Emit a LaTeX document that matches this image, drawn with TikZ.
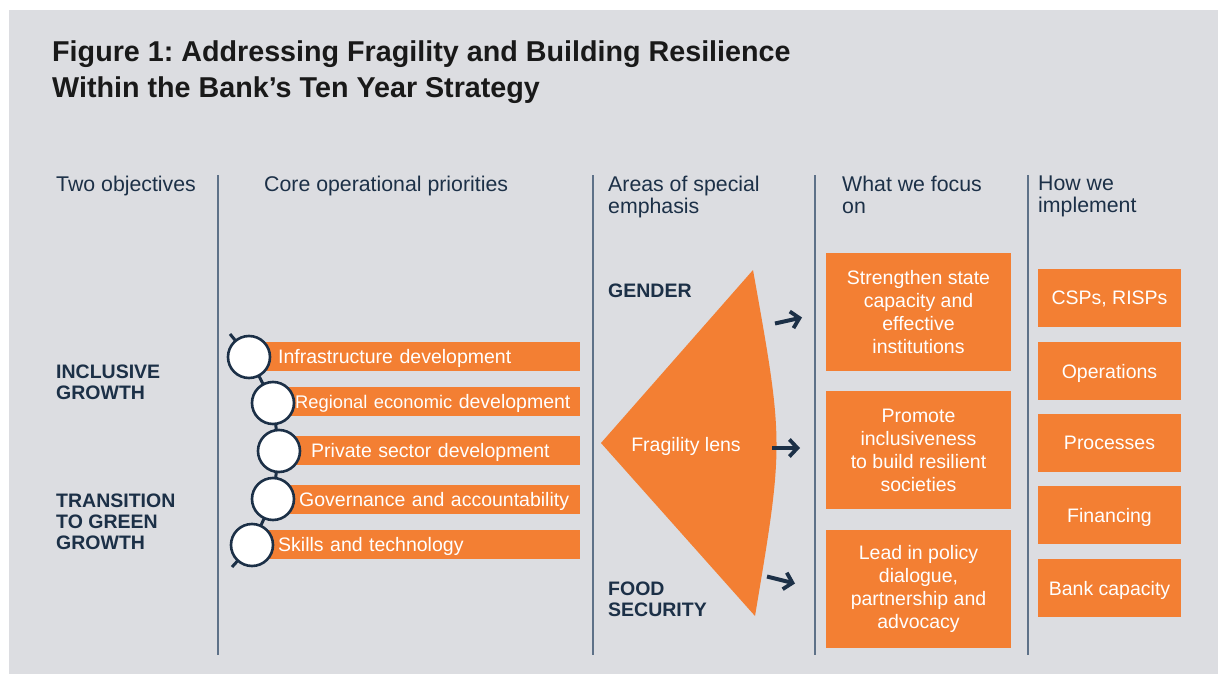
\documentclass[tikz,border=0pt]{standalone}
\usepackage{fontspec}
\setmainfont{Liberation Sans}
\usetikzlibrary{arrows.meta}
\definecolor{bggray}{HTML}{DCDDE1}
\definecolor{orng}{HTML}{F37F33}
\definecolor{navy}{HTML}{1C3047}
\definecolor{sepline}{HTML}{5E7188}
\tikzset{
  heading/.style={anchor=north west, inner sep=0pt, text=navy, align=left, font=\fontsize{21.3}{21.5}\selectfont},
  sidelabel/.style={anchor=north west, inner sep=0pt, text=navy, align=left, font=\fontsize{19.5}{21}\selectfont\bfseries},
  titletext/.style={anchor=base west, inner sep=0pt, text=black!90, font=\fontsize{28.7}{36}\selectfont\bfseries},
  barbox/.style={anchor=west, fill=orng, text=white, inner sep=0pt, minimum height=29pt, text depth=0pt, align=left, font=\fontsize{19.5}{23}\selectfont},
  ring/.style={circle, draw=navy, line width=2.6pt, fill=white, minimum size=42pt, inner sep=0pt},
  chain/.style={draw=navy, line width=3pt},
  focusbox/.style={fill=orng, text=white, minimum width=185pt, minimum height=118pt, align=center, inner sep=0pt, font=\fontsize{19.5}{23}\selectfont},
  implbox/.style={fill=orng, text=white, minimum width=143pt, minimum height=58pt, text depth=0pt, align=center, inner sep=0pt, font=\fontsize{19.5}{23}\selectfont},
  sep/.style={draw=sepline, line width=1.5pt},
  bigarrow/.style={draw=navy, line width=4pt, -{Straight Barb[length=8pt, width=17pt, line width=3.8pt]}}
}
\begin{document}
\frenchspacing
\begin{tikzpicture}[x=1pt, y=-1pt]
\useasboundingbox (0,0) rectangle (1218,674);
\fill[white] (0,0) rectangle (1218,674);
\fill[bggray] (9,10) rectangle (1218,674);

% title
\node[titletext] (title1) at (52,62) {Figure 1: Addressing Fragility and Building Resilience};
\node[titletext] (title2) at (52,98) {Within the Bank’s Ten Year Strategy};

% column separators
\coordinate (s1t) at (218,175); \coordinate (s1b) at (218,655);
\coordinate (s2t) at (593,175); \coordinate (s2b) at (593,655);
\coordinate (s3t) at (815,175); \coordinate (s3b) at (815,655);
\coordinate (s4t) at (1028,175); \coordinate (s4b) at (1028,655);
\draw[sep] (s1t) -- (s1b);
\draw[sep] (s2t) -- (s2b);
\draw[sep] (s3t) -- (s3b);
\draw[sep] (s4t) -- (s4b);

% headings
\node[heading] (h1) at (56,176) {Two objectives};
\node[heading] (h2) at (264,176) {Core operational priorities};
\node[heading] (h3) at (608,176) {Areas of special\\emphasis};
\node[heading] (h4) at (842,176) {What we focus\\on};
\node[heading] (h5) at (1038,176) {How we\\implement};

% objectives
\node[sidelabel] (obj1) at (56,365) {INCLUSIVE\\GROWTH};
\node[sidelabel] (obj2) at (56,494) {TRANSITION\\TO GREEN\\GROWTH};

% priorities
\coordinate (p1) at (249,357);
\coordinate (p2) at (273,403);
\coordinate (p3) at (279,451);
\coordinate (p4) at (273,499);
\coordinate (p5) at (252,545);
\coordinate (ct) at (230,334);
\coordinate (cb) at (232,567);

\node[barbox, text width=331pt] (bar1) at (249,356.5) {\hspace*{29pt}Infrastructure development};
\node[barbox, text width=307pt] (bar2) at (273,401.5) {\hspace*{22pt}{\fontsize{18.3}{20}\selectfont Regional economic} development};
\node[barbox, text width=301pt] (bar3) at (279,450.5) {\hspace*{32pt}Private sector development};
\node[barbox, text width=307pt] (bar4) at (273,499) {\hspace*{26pt}Governance and accountability};
\node[barbox, text width=328pt] (bar5) at (252,544.5) {\hspace*{26pt}Skills and technology};

\draw[chain] (ct) -- (p1) -- (p2) -- (p3) -- (p4) -- (p5) -- (cb);
\node[ring] (c1) at (p1) {};
\node[ring] (c2) at (p2) {};
\node[ring] (c3) at (p3) {};
\node[ring] (c4) at (p4) {};
\node[ring] (c5) at (p5) {};

% special emphasis
\node[sidelabel] (gender) at (608,284) {GENDER};
\node[sidelabel] (food) at (608,582) {FOOD\\SECURITY};
\fill[orng] (601,443) -- (753,270) .. controls (784,443) .. (755,616) -- cycle;
\node[text=white, inner sep=0pt, text depth=0pt, font=\fontsize{19.5}{23}\selectfont] (lens) at (686,444) {Fragility lens};

% arrows
\coordinate (a1s) at (775,323.5); \coordinate (a1e) at (802,317.5);
\coordinate (a2s) at (772,448); \coordinate (a2e) at (800,448);
\coordinate (a3s) at (767,576.5); \coordinate (a3e) at (795,583.5);
\draw[bigarrow] (a1s) -- (a1e);
\draw[bigarrow] (a2s) -- (a2e);
\draw[bigarrow] (a3s) -- (a3e);

% focus
\node[focusbox] (f1) at (918.5,312) {Strengthen state\\capacity and\\effective\\institutions};
\node[focusbox] (f2) at (918.5,450) {Promote\\inclusiveness\\to build resilient\\societies};
\node[focusbox] (f3) at (918.5,589) {Lead in policy\\dialogue,\\partnership and\\advocacy};

% implement
\node[implbox] (i1) at (1109.5,298) {CSPs, RISPs};
\node[implbox] (i2) at (1109.5,371) {Operations};
\node[implbox] (i3) at (1109.5,443) {Processes};
\node[implbox] (i4) at (1109.5,515) {Financing};
\node[implbox] (i5) at (1109.5,588) {Bank capacity};
\end{tikzpicture}
\end{document}
